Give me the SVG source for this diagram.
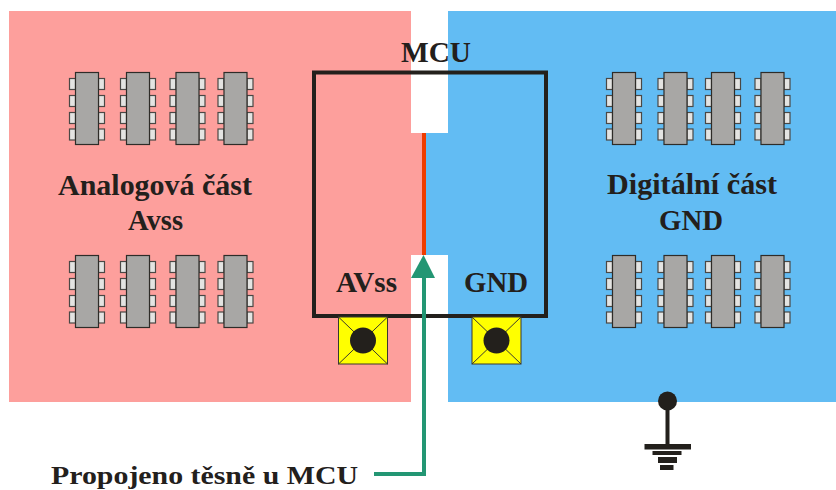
<svg xmlns="http://www.w3.org/2000/svg" width="836" height="490" viewBox="0 0 836 490">
<style>
text{font-family:"Liberation Serif","Times New Roman",serif;font-weight:bold;fill:#23201c;font-size:28.500px;text-anchor:start}
.body{fill:#a8a7a5;stroke:#2e2c28;stroke-width:1.2}
.pin{fill:#e4e4e2;stroke:#4a4845;stroke-width:1.2}
.pad{fill:#ffff00;stroke:#3a382f;stroke-width:1}
.k{fill:#23201c}
</style>
<defs>
<g id="chip">
<rect class="pin" x="69.500" y="78.500" width="6" height="11"/><rect class="pin" x="69.500" y="95.500" width="6" height="11"/><rect class="pin" x="69.500" y="112.500" width="6" height="11"/><rect class="pin" x="69.500" y="129" width="6" height="11"/>
<rect class="pin" x="98.500" y="78.500" width="6" height="11"/><rect class="pin" x="98.500" y="95.500" width="6" height="11"/><rect class="pin" x="98.500" y="112.500" width="6" height="11"/><rect class="pin" x="98.500" y="129" width="6" height="11"/>
<rect class="body" x="75.500" y="72.500" width="23" height="72"/>
</g>
<g id="pad">
<rect class="pad" x="0" y="0" width="49" height="47"/>
<path d="M0 0L49 47M49 0L0 47" stroke="#3a382f" stroke-width="1" fill="none"/>
<circle class="k" cx="24.500" cy="23.500" r="13"/>
</g>
</defs>
<rect width="836" height="490" fill="#ffffff"/>
<g id="analog-plane"><rect x="9" y="11" width="402" height="391" fill="#fd9f9c"/><rect x="411" y="133" width="11" height="122" fill="#fd9f9c"/></g>
<g id="digital-plane"><rect x="448" y="11" width="388" height="391" fill="#62bcf3"/><rect x="426" y="133" width="22" height="122" fill="#62bcf3"/></g>
<g id="bridge"><rect x="422" y="133" width="4" height="122" fill="#f03c00"/></g>
<g id="chips-analog-top"><use href="#chip"/><use href="#chip" x="51"/><use href="#chip" x="100.500"/><use href="#chip" x="148.500"/></g>
<g id="chips-analog-bottom"><use href="#chip" y="183"/><use href="#chip" x="51" y="183"/><use href="#chip" x="100.500" y="183"/><use href="#chip" x="148.500" y="183"/></g>
<g id="chips-digital-top"><use href="#chip" x="537"/><use href="#chip" x="588.500"/><use href="#chip" x="636"/><use href="#chip" x="685.500"/></g>
<g id="chips-digital-bottom"><use href="#chip" x="537" y="183"/><use href="#chip" x="588.500" y="183"/><use href="#chip" x="636" y="183"/><use href="#chip" x="685.500" y="183"/></g>
<g id="mcu">
<rect x="314" y="72.500" width="232" height="243.500" fill="none" stroke="#23201c" stroke-width="4"/>
<text x="401" y="62" textLength="70" lengthAdjust="spacingAndGlyphs">MCU</text>
<text x="336" y="292" textLength="61" lengthAdjust="spacingAndGlyphs">AVss</text>
<text x="464" y="292" textLength="64" lengthAdjust="spacingAndGlyphs">GND</text>
</g>
<g id="pad-avss"><use href="#pad" x="338.500" y="317"/></g>
<g id="pad-gnd"><use href="#pad" x="472" y="317"/></g>
<g id="ground">
<circle class="k" cx="667.500" cy="401" r="9.500"/>
<rect class="k" x="665.500" y="405" width="4" height="41"/>
<rect class="k" x="644.500" y="444" width="46.500" height="5.500"/>
<rect class="k" x="652.500" y="451" width="29" height="4"/>
<rect class="k" x="658" y="457" width="19" height="6"/>
<rect class="k" x="660" y="465" width="13.500" height="5"/>
</g>
<g id="connectors">
<path d="M374 474H424V270" fill="none" stroke="#239673" stroke-width="4"/>
<path d="M423.500 255L435 278H411Z" fill="#239673"/>
</g>
<g id="labels">
<text x="58" y="195" textLength="194" lengthAdjust="spacingAndGlyphs">Analogová část</text>
<text x="128" y="230" textLength="55" lengthAdjust="spacingAndGlyphs">Avss</text>
<text x="607" y="194" textLength="170" lengthAdjust="spacingAndGlyphs">Digitální část</text>
<text x="659" y="230" textLength="64" lengthAdjust="spacingAndGlyphs">GND</text>
<text x="51" y="484" textLength="307" lengthAdjust="spacingAndGlyphs" style="font-size:26px">Propojeno těsně u MCU</text>
</g>
</svg>
